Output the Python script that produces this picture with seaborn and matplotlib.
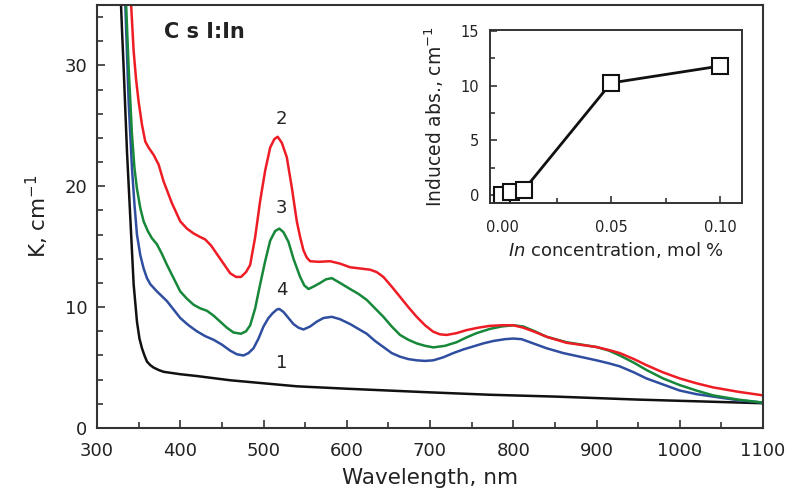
import numpy as np
import pandas as pd
import matplotlib
matplotlib.use("Agg")
import matplotlib.pyplot as plt
import seaborn as sns
from matplotlib.ticker import MultipleLocator

# ---- data ----
wl_1 = [326, 330, 332, 336, 340, 344, 348, 351, 354, 357, 360, 364, 368, 374, 380, 400, 420, 460, 500, 540,
        600, 700, 772, 850, 950, 1000, 1050, 1100]
k_1 = [40, 33, 29.8, 22.9, 17.4, 11.9, 8.8, 7.4, 6.6, 6.0, 5.5, 5.2, 5.0, 4.8, 4.65, 4.45, 4.3, 3.95, 3.7, 3.45,
       3.25, 2.95, 2.75, 2.6, 2.35, 2.25, 2.15, 2.05]

wl_2 = [338, 341, 344, 347, 350, 354, 358, 362, 368, 374, 380, 390, 400, 408, 416, 424, 430, 437, 444, 452,
        460, 467, 473, 479, 484, 490, 496, 502, 508, 513, 517, 522, 528, 534, 540, 544, 548, 552, 556, 566, 580,
        592, 604, 616, 628, 636, 644, 654, 664, 674, 684, 694, 704, 712, 720, 732, 744, 758, 772, 786, 800,
        812, 826, 840, 864, 900, 915, 928, 945, 960, 980, 1000, 1020, 1040, 1070, 1100]
k_2 = [40, 35, 31.2, 28.8, 27, 25.1, 23.7, 23.2, 22.6, 21.8, 20.4, 18.6, 17.1, 16.5, 16.1, 15.8, 15.6, 15.1, 14.4, 13.6,
       12.8, 12.5, 12.5, 12.9, 13.5, 15.8, 18.8, 21.3, 23.2, 23.9, 24.1, 23.6, 22.4, 19.9, 17.1, 15.8, 14.7, 14.1, 13.8, 13.75, 13.8,
       13.6, 13.3, 13.2, 13.1, 12.9, 12.5, 11.7, 10.85, 10.0, 9.2, 8.5, 7.96, 7.75, 7.7, 7.85, 8.1, 8.3, 8.45, 8.5, 8.5,
       8.3, 7.95, 7.55, 7.05, 6.7, 6.45, 6.2, 5.7, 5.2, 4.6, 4.1, 3.7, 3.36, 3.0, 2.7]

wl_3 = [333, 335, 338, 342, 345, 348, 352, 356, 361, 366, 372, 378, 384, 392, 400, 408, 416, 424, 432, 440,
        448, 456, 464, 473, 479, 484, 490, 496, 502, 508, 514, 519, 524, 530, 536, 544, 549, 554, 560, 568,
        575, 582, 592, 604, 614, 624, 634, 644, 654, 664, 674, 684, 694, 704, 718, 732, 744, 756, 772, 786,
        800, 812, 826, 840, 864, 900, 915, 928, 945, 960, 980, 1000, 1020, 1040, 1070, 1100]
k_3 = [40, 35, 29.8, 24.3, 21.5, 19.8, 18.2, 17.1, 16.3, 15.7, 15.2, 14.4, 13.5, 12.4, 11.3, 10.7, 10.2, 9.9, 9.7, 9.3,
       8.8, 8.3, 7.9, 7.8, 8.0, 8.5, 9.9, 11.9, 13.8, 15.5, 16.3, 16.5, 16.2, 15.4, 14.0, 12.5, 11.8, 11.5, 11.7, 12.0,
       12.3, 12.4, 12.0, 11.5, 11.1, 10.6, 9.9, 9.2, 8.4, 7.7, 7.3, 7.0, 6.8, 6.67, 6.8, 7.1, 7.5, 7.85, 8.2, 8.4,
       8.5, 8.4, 8.0, 7.55, 7.1, 6.7, 6.4, 6.0, 5.4, 4.8, 4.1, 3.55, 3.1, 2.7, 2.35, 2.1]

wl_4 = [330, 334, 338, 342, 345, 348, 352, 356, 360, 364, 368, 372, 378, 384, 392, 400, 410, 420, 430, 440,
        450, 460, 468, 476, 482, 488, 494, 500, 506, 511, 516, 519, 524, 530, 536, 542, 548, 556, 564, 572,
        582, 592, 604, 614, 624, 634, 644, 654, 664, 674, 684, 694, 704, 716, 728, 740, 752, 764, 776, 790,
        800, 810, 820, 840, 860, 880, 900, 915, 928, 945, 960, 980, 1000, 1020, 1040, 1070, 1100]
k_4 = [40, 35, 27, 21.5, 18.5, 16, 14.3, 13.2, 12.4, 11.9, 11.6, 11.3, 10.9, 10.5, 9.8, 9.1, 8.5, 8.0, 7.6, 7.3,
       6.9, 6.4, 6.1, 6.0, 6.2, 6.6, 7.4, 8.4, 9.1, 9.5, 9.8, 9.85, 9.6, 9.1, 8.6, 8.3, 8.15, 8.4, 8.8, 9.1,
       9.2, 9.0, 8.6, 8.2, 7.8, 7.2, 6.7, 6.2, 5.9, 5.7, 5.6, 5.55, 5.6, 5.85, 6.2, 6.5, 6.75, 7.0, 7.2, 7.35,
       7.4, 7.35, 7.1, 6.6, 6.2, 5.9, 5.6, 5.35, 5.1, 4.6, 4.1, 3.6, 3.1, 2.8, 2.6, 2.3, 2.1]

curve_labels = ["1", "2", "3", "4"]
curve_colors = ["#111111", "#ee1c25", "#17873a", "#2f4ea0"]

conc = [0.0, 0.004, 0.01, 0.05, 0.10]
induced = [0.0, 0.3, 0.45, 10.25, 11.8]

# ---- style ----
sns.set_style("ticks")
plt.rcParams["font.family"] = ["DejaVu Sans"]
plt.rcParams["mathtext.fontset"] = "dejavusans"

edge = "#333333"
txt = "#222222"

fig = plt.figure(figsize=(7.9, 5.0), dpi=100)
ax = fig.add_axes([97 / 790, 1 - 428 / 500, (763 - 97) / 790, (428 - 5) / 500])

frames = []
for lab, wl, k in zip(curve_labels, [wl_1, wl_2, wl_3, wl_4], [k_1, k_2, k_3, k_4]):
    frames.append(pd.DataFrame({"wl": wl, "k": k, "curve": lab}))
df = pd.concat(frames, ignore_index=True)

sns.lineplot(data=df, x="wl", y="k", hue="curve", hue_order=["1", "4", "3", "2"],
             palette=dict(zip(curve_labels, curve_colors)), linewidth=1.8,
             sort=False, estimator=None, legend=False, ax=ax)

ax.set_xlim(300, 1100)
ax.set_ylim(0, 35)
ax.xaxis.set_major_locator(MultipleLocator(100))
ax.xaxis.set_minor_locator(MultipleLocator(50))
ax.yaxis.set_major_locator(MultipleLocator(10))
ax.yaxis.set_minor_locator(MultipleLocator(2))
ax.tick_params(which="both", direction="in", color=edge, width=1.2, labelsize=13, labelcolor=txt)
ax.tick_params(which="major", length=6)
ax.tick_params(which="minor", length=4)
ax.tick_params(axis="x", pad=10)
ax.tick_params(axis="y", pad=7)
for s in ax.spines.values():
    s.set_visible(True)
    s.set_color(edge)
    s.set_linewidth(1.5)
ax.set_xlabel("Wavelength, nm", fontsize=15.5, color=txt, labelpad=6)
ax.set_ylabel("K, cm$^{-1}$", fontsize=15.5, color=txt, labelpad=10)

ax.text(0.1, 0.936, "C s I:In", transform=ax.transAxes, fontsize=15, fontweight="bold",
        color=txt, va="center", ha="left")
label_pos = {"2": 25.6, "3": 18.2, "4": 11.4, "1": 5.4}
for lab, yv in label_pos.items():
    ax.text(522, yv, lab, fontsize=13, ha="center", va="center", color=txt)

# ---- inset ----
ins = fig.add_axes([490 / 790, 1 - 203 / 500, (742 - 490) / 790, (203 - 30) / 500])
sns.lineplot(x=conc, y=induced, ax=ins, color="#111111", linewidth=2.0, marker="s",
             markersize=11, markerfacecolor="white", markeredgecolor="#111111", markeredgewidth=1.5,
             sort=False, estimator=None)
ins.set_xlim(-0.0055, 0.110)
ins.set_ylim(-0.75, 15.1)
ins.xaxis.set_major_locator(MultipleLocator(0.05))
ins.xaxis.set_minor_locator(MultipleLocator(0.025))
ins.yaxis.set_major_locator(MultipleLocator(5))
ins.yaxis.set_minor_locator(MultipleLocator(2.5))
ins.set_xticks([0.0, 0.05, 0.10])
ins.set_xticklabels(["0.00", "0.05", "0.10"])
ins.tick_params(which="both", direction="in", color=edge, width=1.2, labelsize=10.5, labelcolor=txt)
ins.tick_params(which="major", length=5)
ins.tick_params(which="minor", length=3.5)
ins.tick_params(axis="x", pad=12)
ins.tick_params(axis="y", pad=8)
for s in ins.spines.values():
    s.set_visible(True)
    s.set_color(edge)
    s.set_linewidth(1.4)
ins.set_xlabel("$\\it{In}$ concentration, mol %", fontsize=13, color=txt, labelpad=4)
ins.set_ylabel("Induced abs., cm$^{-1}$", fontsize=13.5, color=txt, labelpad=10)

fig.savefig("out.png", dpi=100)
